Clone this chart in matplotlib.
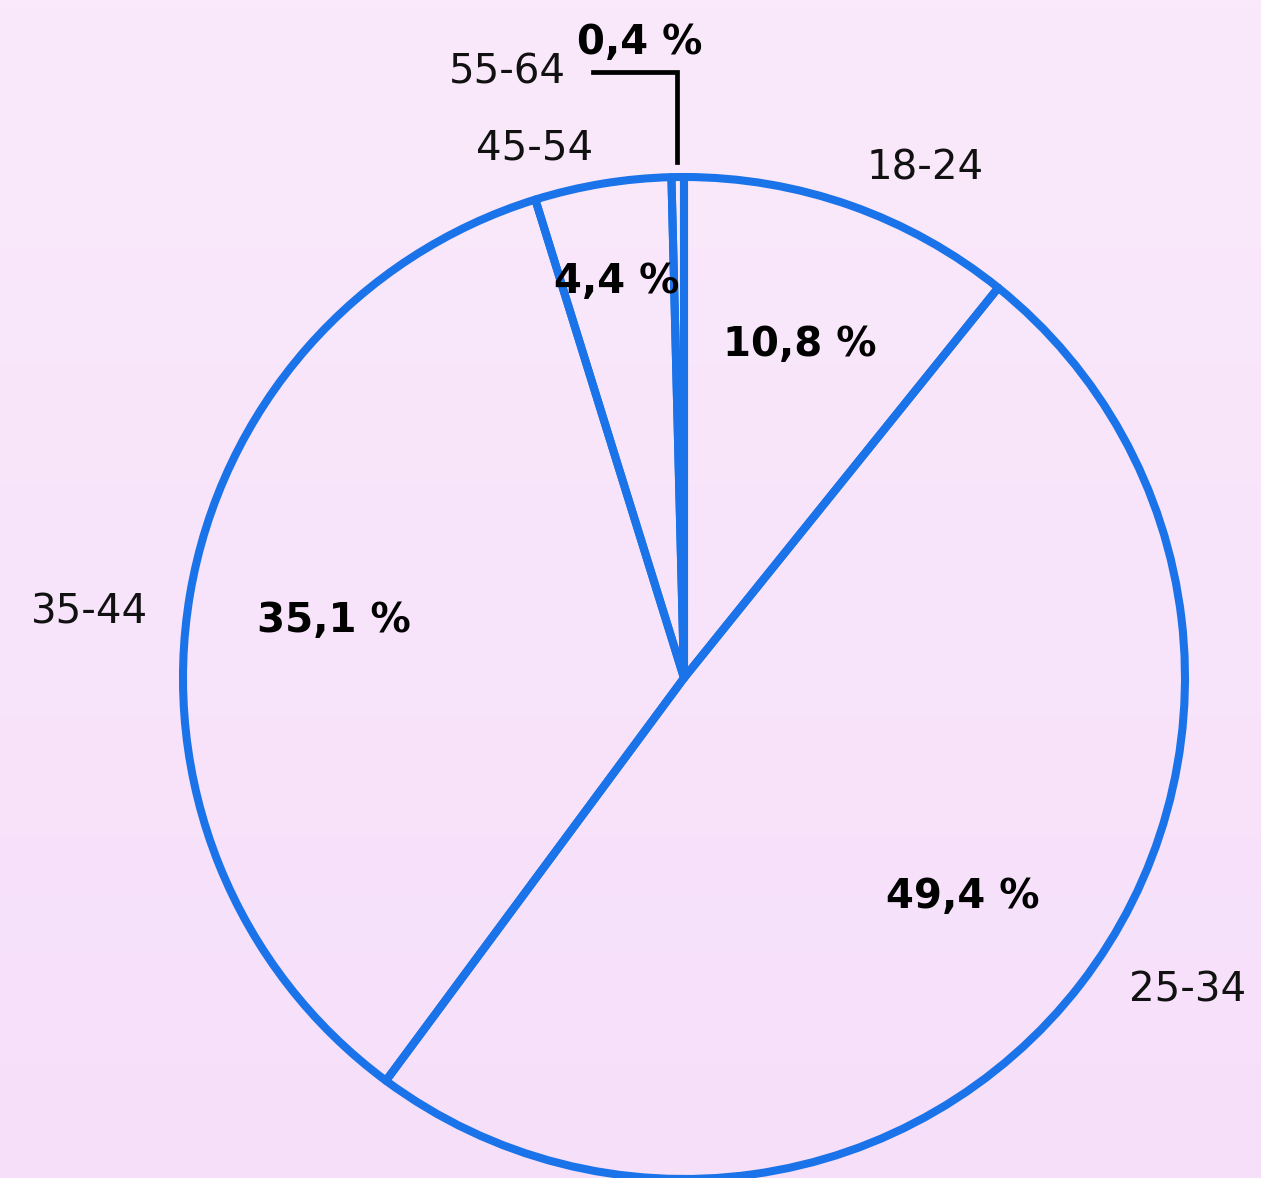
import numpy as np
import matplotlib
matplotlib.use("Agg")
import matplotlib.pyplot as plt

# Age distribution (percent)
age_groups = ["18-24", "25-34", "35-44", "45-54", "55-64"]
shares = [10.8, 49.4, 35.1, 4.4, 0.4]
pct_labels = ["10,8 %", "49,4 %", "35,1 %", "4,4 %", "0,4 %"]

W, H = 1261, 1178
fig = plt.figure(figsize=(W / 100, H / 100), dpi=100)
ax = fig.add_axes([0, 0, 1, 1])

# soft lavender background
grad = np.linspace(0, 1, 256)[:, None]
top = np.array([0.980, 0.914, 0.984])
bot = np.array([0.965, 0.875, 0.980])
img = top[None, None, :] * (1 - grad[..., None]) + bot[None, None, :] * grad[..., None]
ax.imshow(img, extent=[0, W, 0, H], aspect="auto", zorder=0, origin="upper")

blue = "#1a73e8"
cx, cy, r = 684, H - 678, 501
ax.pie(shares, startangle=90, counterclock=False, center=(cx, cy), radius=r,
       colors=["none"] * len(shares), frame=True, normalize=True,
       wedgeprops=dict(edgecolor=blue, linewidth=5.8, joinstyle="round"))
ax.set_xlim(0, W)
ax.set_ylim(0, H)
ax.set_aspect("auto")
ax.axis("off")

font = "DejaVu Sans"
# category labels (pixel layout, y measured from top)
cat_pos = [(925, 168, "center"), (1188, 990, "center"), (90, 613, "center"),
           (535, 148, "center"), (566, 72, "right")]
for name, (x, y, ha) in zip(age_groups, cat_pos):
    ax.text(x, H - y, name, ha=ha, va="center", fontsize=29, family=font,
            color="#111111", zorder=5)

pct_pos = [(800, 345), (963, 897), (334, 621), (617, 282), (640, 43)]
for lab, (x, y) in zip(pct_labels, pct_pos):
    ax.text(x, H - y, lab, ha="center", va="center", fontsize=29, family=font,
            fontweight="bold", color="#000000", zorder=5)

# leader line for the smallest slice
ax.plot([593, 677, 677], [H - 72, H - 72, H - 162], color="black",
        linewidth=3.4, solid_joinstyle="miter", zorder=4)

fig.savefig("out.png", dpi=100)
